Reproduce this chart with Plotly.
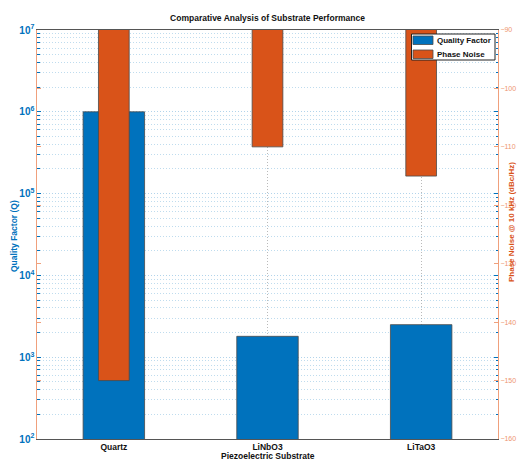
import plotly.graph_objects as go

categories = ["Quartz", "LiNbO3", "LiTaO3"]
quality_factor = [1e6, 1800, 2500]
phase_noise = [-150, -110, -115]
right_ticks = [-160, -150, -140, -130, -120, -110, -100, -90]
series_names = ["Quality Factor", "Phase Noise"]

BLUE = "#0072BD"
ORANGE = "#D95319"
SALMON = "#F0A07C"
FONT = "Arial"

W, H = 517, 464
L, R, T, B = 37, 498, 30, 439
PW, PH = R - L, B - T

x_pos = [1, 2, 3]

fig = go.Figure()
fig.add_trace(go.Bar(
    x=x_pos, y=quality_factor, name=series_names[0], width=0.4,
    marker=dict(color=BLUE, line=dict(color="#4a4a4a", width=0.8)),
    yaxis="y", showlegend=False,
))
fig.add_trace(go.Bar(
    x=x_pos, y=phase_noise, name=series_names[1], width=0.2, base=0,
    marker=dict(color=ORANGE, line=dict(color="#4a4a4a", width=0.8)),
    yaxis="y2", showlegend=False,
))


def px_x(p):
    return (p - L) / PW


def px_y(p):
    return 1 - (p - T) / PH


shapes = [
    # legend box
    dict(type="rect", xref="paper", yref="paper",
         x0=px_x(411.5), x1=px_x(495), y0=px_y(60), y1=px_y(34),
         fillcolor="white", line=dict(color="#222", width=1), layer="above"),
    dict(type="rect", xref="paper", yref="paper",
         x0=px_x(413), x1=px_x(433), y0=px_y(44.5), y1=px_y(36),
         fillcolor=BLUE, line=dict(color="#4a4a4a", width=0.8), layer="above"),
    dict(type="rect", xref="paper", yref="paper",
         x0=px_x(413), x1=px_x(433), y0=px_y(58.5), y1=px_y(50),
         fillcolor=ORANGE, line=dict(color="#4a4a4a", width=0.8), layer="above"),
]

annotations = [
    dict(text="<b>%s</b>" % series_names[0], xref="paper", yref="paper",
         x=px_x(434.5), y=px_y(40.5), xanchor="left", yanchor="middle",
         showarrow=False, font=dict(family=FONT, size=8, color="#111")),
    dict(text="<b>%s</b>" % series_names[1], xref="paper", yref="paper",
         x=px_x(434.5), y=px_y(54.5), xanchor="left", yanchor="middle",
         showarrow=False, font=dict(family=FONT, size=8, color="#111")),
    dict(text="<b>Piezoelectric Substrate</b>", xref="paper", yref="paper",
         x=0.5, y=px_y(456), xanchor="center", yanchor="middle",
         showarrow=False, font=dict(family=FONT, size=8.5, color="#111")),
    dict(text="<b>Quality Factor (Q)</b>", xref="paper", yref="paper",
         x=px_x(14), y=px_y(236), xanchor="center", yanchor="middle",
         textangle=-90, showarrow=False,
         font=dict(family=FONT, size=8.5, color=BLUE)),
    dict(text="<b>Phase Noise @ 10 kHz (dBc/Hz)</b>", xref="paper", yref="paper",
         x=px_x(512), y=px_y(222), xanchor="center", yanchor="middle",
         textangle=-90, showarrow=False,
         font=dict(family=FONT, size=8, color=ORANGE)),
]

fig.update_layout(
    width=W, height=H,
    margin=dict(l=L, r=W - R, t=T, b=H - B),
    paper_bgcolor="white", plot_bgcolor="white",
    barmode="overlay",
    font=dict(family=FONT, size=8, color="black"),
    title=dict(text="<b>Comparative Analysis of Substrate Performance</b>",
               x=0.5, xref="paper", xanchor="center",
               y=1 - 18 / H, yref="container", yanchor="middle",
               font=dict(family=FONT, size=8.5, color="#111")),
    xaxis=dict(
        range=[0.5, 3.5], tickmode="array", tickvals=x_pos,
        ticktext=["<b>%s</b>" % c for c in categories],
        tickfont=dict(family=FONT, size=8.5, color="#111"),
        showline=True, linecolor="#555", linewidth=1, mirror=True,
        showgrid=True, gridcolor="rgba(140,140,140,0.6)", griddash="1px,2px", gridwidth=1,
        ticks="", zeroline=False, automargin=False,
    ),
    yaxis=dict(
        type="log", range=[2, 7], dtick=1, exponentformat="power",
        tickfont=dict(family=FONT, size=8, color=BLUE, weight="bold"),
        showline=True, linecolor=SALMON, linewidth=1, mirror="ticks",
        ticks="inside", ticklen=4, tickcolor=BLUE,
        showgrid=True, gridcolor="rgba(0,114,189,0.30)", griddash="1px,2px", gridwidth=1,
        minor=dict(ticks="inside", ticklen=2.5, tickcolor=BLUE, showgrid=True,
                   gridcolor="rgba(0,114,189,0.25)", griddash="1px,2px", gridwidth=1),
        zeroline=False, automargin=False,
    ),
    yaxis2=dict(
        overlaying="y", side="right", range=[-160, -90],
        tickmode="array", tickvals=right_ticks,
        tickfont=dict(family=FONT, size=7, color="#EE9570"),
        showline=True, linecolor=SALMON, linewidth=1, mirror="ticks",
        ticks="inside", ticklen=4, tickcolor=SALMON,
        showgrid=False, zeroline=False, automargin=False,
    ),
    showlegend=False,
    shapes=shapes,
    annotations=annotations,
)

fig.write_html("out.html", config={"displayModeBar": False},
               post_script="document.body.style.margin='0';document.body.style.padding='0';")
